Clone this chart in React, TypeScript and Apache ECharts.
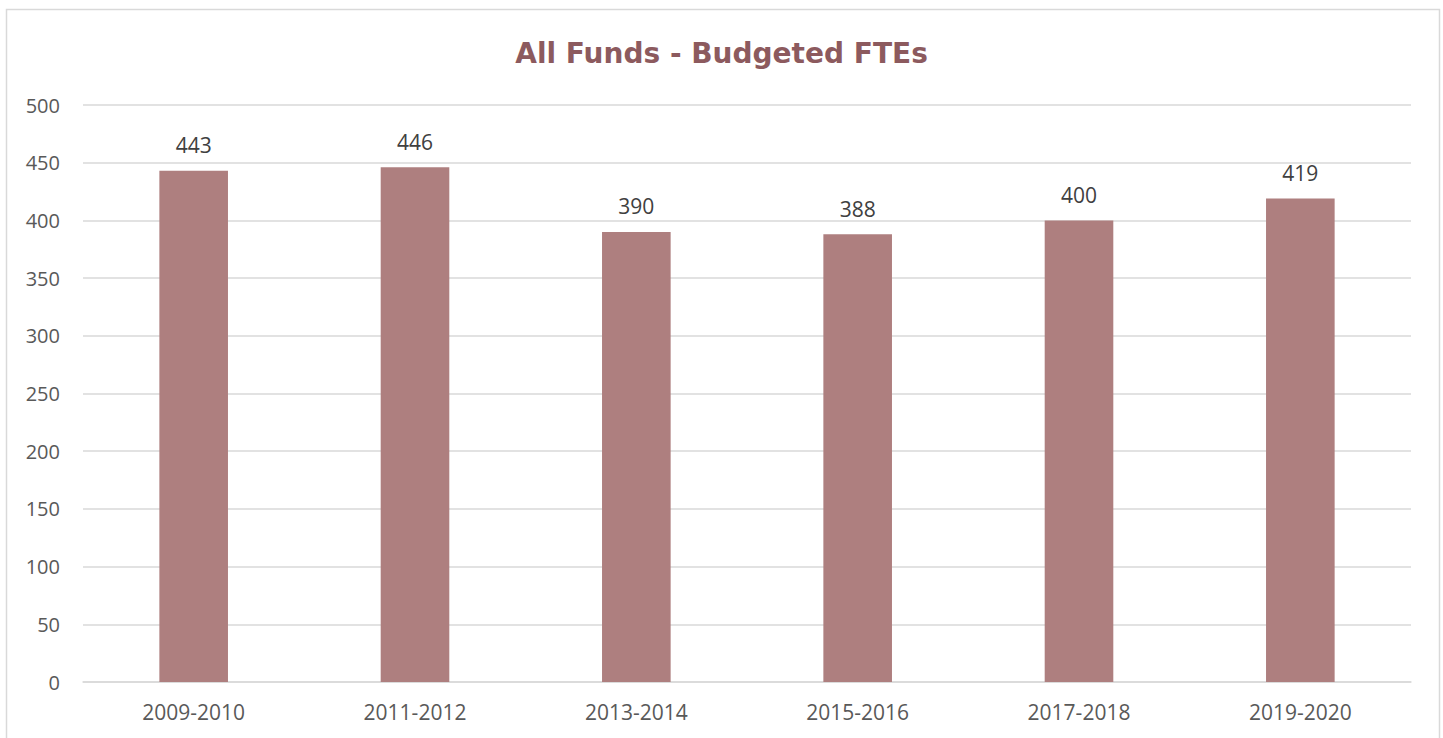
import React, { useEffect, useRef } from "react";
import * as echarts from "echarts";

const categories = ["2009-2010", "2011-2012", "2013-2014", "2015-2016", "2017-2018", "2019-2020"];
const values = [443, 446, 390, 388, 400, 419];
const titleText = "All Funds - Budgeted FTEs";

export default function App() {
  const ref = useRef<HTMLDivElement>(null);
  useEffect(() => {
    document.body.style.margin = "0";
    const chart = echarts.init(ref.current!, undefined, { renderer: "svg" });
    chart.setOption({
      animation: false,
      backgroundColor: "#ffffff",
      title: {
        text: titleText,
        left: "center",
        top: 34,
        textStyle: {
          fontFamily: "DejaVu Sans",
          fontSize: 28,
          fontWeight: "bold",
          color: "#8C5A5E",
        },
      },
      graphic: [
        {
          type: "rect",
          shape: { x: 6.5, y: 9.5, width: 1433, height: 740 },
          style: { fill: "none", stroke: "#D9D9D9", lineWidth: 1.5 },
          silent: true,
        },
      ],
      grid: { left: 83, right: 32, top: 105, bottom: 56 },
      xAxis: {
        type: "category",
        data: categories,
        axisLine: { lineStyle: { color: "#D9D9D9", width: 1.5 } },
        axisTick: { show: false },
        axisLabel: { color: "#595959", fontSize: 21, fontFamily: "Open Sans", margin: 19 },
      },
      yAxis: {
        type: "value",
        min: 0,
        max: 500,
        interval: 50,
        axisLine: { show: false },
        axisTick: { show: false },
        splitLine: { lineStyle: { color: "#D9D9D9", width: 1.5 } },
        axisLabel: { color: "#595959", fontSize: 20, fontFamily: "Open Sans", margin: 23 },
      },
      series: [
        {
          type: "bar",
          data: values,
          barWidth: "31%",
          itemStyle: { color: "#AE7F7F" },
          label: {
            show: true,
            position: "top",
            distance: 15,
            color: "#404040",
            fontSize: 21,
            fontFamily: "Open Sans",
          },
        },
      ],
    });
    return () => chart.dispose();
  }, []);
  return <div ref={ref} style={{ width: 1443, height: 738 }} />;
}
